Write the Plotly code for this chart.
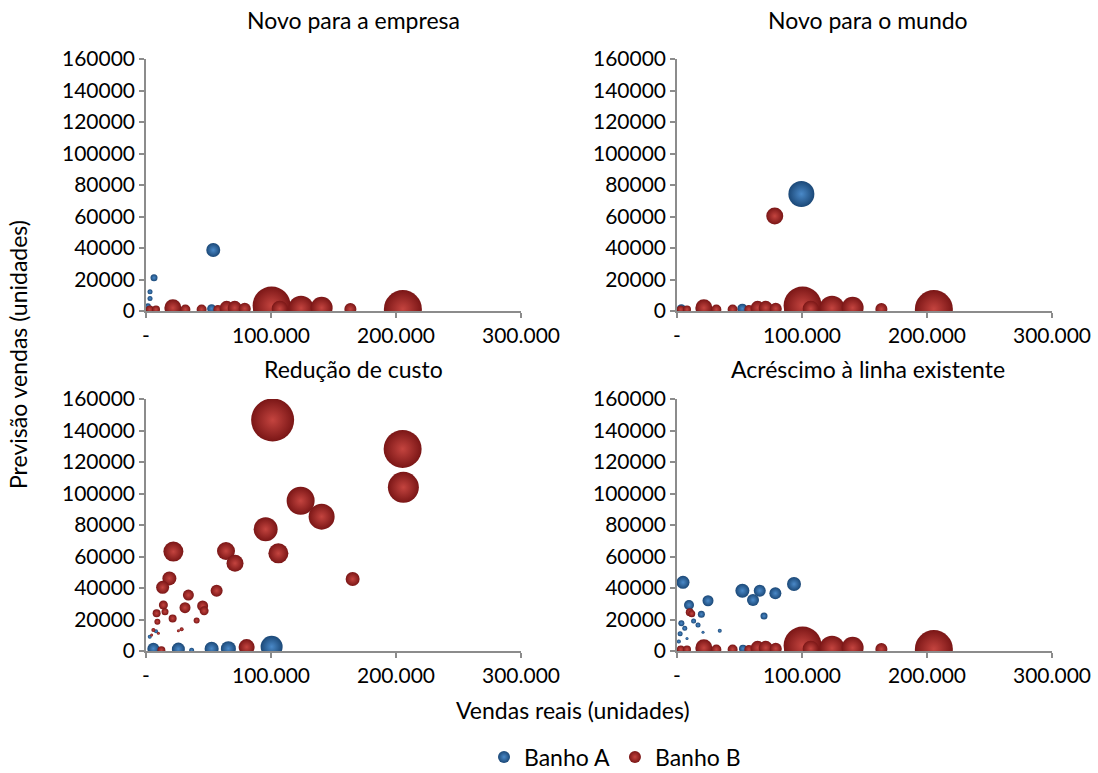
import plotly.graph_objects as go

# ---------------- data ----------------
x_tickvals = [0, 100000, 200000, 300000]
x_ticktext = ["-", "100.000", "200.000", "300.000"]
y_tickvals = [0, 20000, 40000, 60000, 80000, 100000, 120000, 140000, 160000]

panel_titles = ["Novo para a empresa", "Novo para o mundo",
                "Redução de custo", "Acréscimo à linha existente"]
series_names = ["Banho A", "Banho B"]

# common row of Banho B bubbles lying on the x-axis (panels 1, 2, 4)
base_B_x = [3000, 8000, 21500, 31500, 44500, 57500, 64500, 71000, 79000, 92000, 100500, 107000, 124000, 140500, 163500, 205500]
base_B_y = [1000, 1000, 2000, 1000, 1000, 1000, 2000, 2000, 1500, 1500, 3500, 1500, 1800, 2000, 1200, 1200]
base_B_s = [8, 8, 17, 10, 10, 9, 14, 14, 12, 16, 38, 16, 25, 22, 12, 38]

# Novo para a empresa
empresa_A_x = [53800, 6400, 3200, 3200, 52500, 1500]
empresa_A_y = [38700, 21100, 12200, 8000, 1500, 3000]
empresa_A_s = [14, 7, 5, 5, 9, 6]
empresa_B_x = base_B_x
empresa_B_y = base_B_y
empresa_B_s = base_B_s

# Novo para o mundo
mundo_A_x = [99500, 3500, 52300, 78200]
mundo_A_y = [74300, 1500, 1500, 1500]
mundo_A_s = [26, 9, 10, 9]
mundo_B_x = [78200] + base_B_x
mundo_B_y = [60300] + base_B_y
mundo_B_s = [17] + base_B_s

# Redução de custo
custo_A_x = [5900, 25900, 36500, 52500, 65900, 100500, 3000, 8000]
custo_A_y = [1500, 1200, 500, 1500, 1500, 2700, 9000, 12500]
custo_A_s = [12, 13, 5, 14, 15, 22, 4, 4]
custo_B_x = [101300, 205300, 205900, 123700, 140500, 95700, 105900, 64000, 71200,
             21900, 18700, 13300, 33900, 56500, 165300, 31200, 45300, 46500, 13900,
             8500, 21300, 40500, 15200, 9100, 28500, 25900, 5900, 4500, 9900, 12300, 80500]
custo_B_y = [146700, 128300, 103900, 95400, 85300, 77300, 62000, 63500, 55700,
             63100, 46100, 40400, 35500, 38300, 45700, 27500, 28600, 25500, 29200,
             23900, 20700, 19300, 25000, 18600, 13800, 12900, 13300, 10100, 11200, 500, 2500]
custo_B_s = [43, 38, 31, 28, 26, 24, 20, 18, 17,
             20, 14, 13, 11, 12, 14, 11, 11, 9, 9,
             8, 8, 6, 7, 6, 4, 3, 4, 3, 3, 8, 16]

# Acréscimo à linha existente
acrescimo_A_x = [4800, 52300, 60800, 66200, 78700, 93600, 24800, 9600, 69600, 19500,
                 34200, 3500, 6200, 2500, 16800, 13300, 20800, 52800, 1500, 8000]
acrescimo_A_y = [43600, 38300, 32400, 38300, 36600, 42500, 31900, 29200, 22200, 23300,
                 12900, 17600, 14400, 11000, 16500, 19000, 11900, 1500, 6000, 8000]
acrescimo_A_s = [13, 14, 12, 12, 12, 14, 11, 10, 7, 7,
                 4, 6, 5, 5, 5, 5, 3, 8, 4, 3]
acrescimo_B_x = [10200, 11800] + base_B_x
acrescimo_B_y = [24600, 23700] + base_B_y
acrescimo_B_s = [8, 7] + base_B_s

panels = [
    (empresa_A_x, empresa_A_y, empresa_A_s, empresa_B_x, empresa_B_y, empresa_B_s),
    (mundo_A_x, mundo_A_y, mundo_A_s, mundo_B_x, mundo_B_y, mundo_B_s),
    (custo_A_x, custo_A_y, custo_A_s, custo_B_x, custo_B_y, custo_B_s),
    (acrescimo_A_x, acrescimo_A_y, acrescimo_A_s, acrescimo_B_x, acrescimo_B_y, acrescimo_B_s),
]

# ---------------- style ----------------
W, H = 1098, 773
FONT = "Lato"
TITLE_SIZE = 23
col_A, col_A_hi = "#1b4877", "#4a89c8"
col_B, col_B_hi = "#7a1616", "#c4443f"
axis_col = "#8c8c8c"

x_dom = [(146 / W, 521 / W), (677 / W, 1052 / W)]
y_dom = [(1 - 311 / H, 1 - 59 / H), (1 - 651 / H, 1 - 399 / H)]

fig = go.Figure()
layout = dict(
    width=W, height=H,
    margin=dict(l=0, r=0, t=0, b=0, autoexpand=False),
    paper_bgcolor="white", plot_bgcolor="white",
    font=dict(family=FONT, size=21, color="black"),
    showlegend=True,
)

title_pos = [(353, 20), (868, 20), (353, 369), (868, 369)]
annotations = []

for i, (ax_, ay_, as_, bx_, by_, bs_) in enumerate(panels):
    r, c = divmod(i, 2)
    n = i + 1
    xa = "x" if n == 1 else f"x{n}"
    ya = "y" if n == 1 else f"y{n}"
    common = dict(mode="markers", xaxis=xa, yaxis=ya, showlegend=False, cliponaxis=True,
                  hoverinfo="x+y")
    fig.add_trace(go.Scatter(x=ax_, y=ay_, name=series_names[0],
                             marker=dict(size=as_, sizemode="diameter", color=col_A, opacity=1,
                                         gradient=dict(type="radial", color=col_A_hi),
                                         line=dict(width=0)), **common))
    fig.add_trace(go.Scatter(x=bx_, y=by_, name=series_names[1],
                             marker=dict(size=bs_, sizemode="diameter", color=col_B, opacity=1,
                                         gradient=dict(type="radial", color=col_B_hi),
                                         line=dict(width=0)), **common))
    axis_common = dict(showgrid=False, zeroline=False, showline=True, linecolor=axis_col,
                       linewidth=1.5, ticks="outside", tickcolor=axis_col, ticklen=5,
                       tickwidth=1.5, tickfont=dict(family=FONT, size=21, color="black"))
    layout["xaxis" if n == 1 else f"xaxis{n}"] = dict(
        domain=x_dom[c], anchor=ya, range=[0, 300000], tickvals=x_tickvals,
        ticktext=x_ticktext, **axis_common)
    layout["yaxis" if n == 1 else f"yaxis{n}"] = dict(
        domain=y_dom[r], anchor=xa, range=[0, 160000], tickvals=y_tickvals,
        tickformat="d", **axis_common)
    tx, ty = title_pos[i]
    annotations.append(dict(text=panel_titles[i], x=tx / W, y=1 - ty / H, xref="paper",
                            yref="paper", showarrow=False, xanchor="center", yanchor="middle",
                            font=dict(family=FONT, size=TITLE_SIZE, color="black")))

# legend-only traces
for name, col, hi in [(series_names[0], col_A, col_A_hi), (series_names[1], col_B, col_B_hi)]:
    fig.add_trace(go.Scatter(x=[None], y=[None], mode="markers", name=name,
                             marker=dict(size=13, color=col, opacity=1,
                                         gradient=dict(type="radial", color=hi),
                                         line=dict(width=0))))

annotations.append(dict(text="Previsão vendas (unidades)", x=18 / W, y=1 - 355 / H,
                        xref="paper", yref="paper", showarrow=False, textangle=-90,
                        xanchor="center", yanchor="middle",
                        font=dict(family=FONT, size=TITLE_SIZE, color="black")))
annotations.append(dict(text="Vendas reais (unidades)", x=573 / W, y=1 - 710 / H,
                        xref="paper", yref="paper", showarrow=False,
                        xanchor="center", yanchor="middle",
                        font=dict(family=FONT, size=TITLE_SIZE, color="black")))

layout["annotations"] = annotations
layout["legend"] = dict(orientation="h", x=615 / W, y=1 - 757 / H, xanchor="center",
                        yanchor="middle", font=dict(family=FONT, size=23, color="black"),
                        itemsizing="constant", itemwidth=30, tracegroupgap=0,
                        bgcolor="rgba(0,0,0,0)")
fig.update_layout(**layout)
fig.write_html("out.html")
